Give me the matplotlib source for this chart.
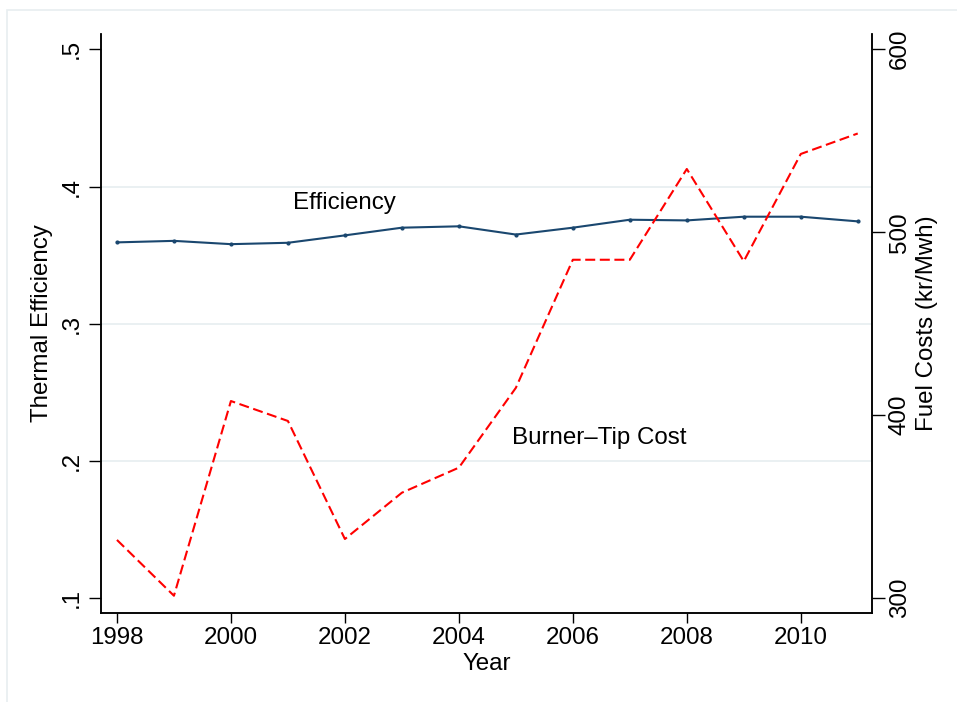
import matplotlib
matplotlib.use("Agg")
import matplotlib.pyplot as plt
from matplotlib.patches import Rectangle

plt.rcParams['font.family'] = ['Liberation Sans', 'DejaVu Sans']

# Annual series
years = [1998, 1999, 2000, 2001, 2002, 2003, 2004, 2005, 2006, 2007, 2008, 2009, 2010, 2011]
efficiency = [0.3593, 0.3604, 0.3580, 0.3590, 0.3644, 0.3700, 0.3710, 0.3650, 0.3700,
              0.3758, 0.3753, 0.3780, 0.3780, 0.3746]
fuel_cost = [331.9, 301.4, 407.8, 396.9, 332.4, 357.7, 371.4, 415.0, 485.0, 485.0,
             534.6, 484.2, 542.8, 554.0]

x_ticks = [1998, 2000, 2002, 2004, 2006, 2008, 2010]
left_ticks = [0.1, 0.2, 0.3, 0.4, 0.5]
left_labels = ['.1', '.2', '.3', '.4', '.5']
grid_levels = [0.2, 0.3, 0.4]
right_ticks = [300, 400, 500, 600]

FS = 17.4
NAVY = '#1A476F'
GRID = '#E6EDF0'

fig = plt.figure(figsize=(9.57, 7.02), dpi=100)
fig.patches.append(Rectangle((7 / 957, -0.1), 1.2, (702 - 10) / 702 + 0.1,
                             transform=fig.transFigure, fill=False,
                             edgecolor='#E8EEF0', linewidth=1.2, zorder=0))

ax = fig.add_axes([101 / 957, (702 - 613) / 702, (872 - 101) / 957, (613 - 34) / 702])
ax2 = ax.twinx()

ax.set_xlim(1997.72, 2011.25)
ax.set_ylim(0.0893, 0.5111)
ax2.set_ylim(291.97, 608.36)

for lvl in grid_levels:
    ax.axhline(lvl, color=GRID, linewidth=1.2, zorder=0)

ax.plot(years, efficiency, color=NAVY, linewidth=1.5, marker='o', markersize=2.0,
        zorder=3)
ax2.plot(years, fuel_cost, color='#FF0000', linewidth=1.5, linestyle=(0, (4.8, 2.2)),
         zorder=3)

ax.text(2001.09, 0.3835, 'Efficiency', fontsize=FS, ha='left', va='baseline')
ax.text(2004.94, 0.2125, 'Burner\u2013Tip Cost', fontsize=FS, ha='left', va='baseline')

for a in (ax, ax2):
    a.spines['top'].set_visible(False)
    for s in ('left', 'right', 'bottom'):
        a.spines[s].set_linewidth(1.1)
        a.spines[s].set_color('#000000')

ax.set_xticks(x_ticks)
ax.set_xticklabels([str(v) for v in x_ticks], fontsize=FS)
ax.set_yticks(left_ticks)
ax.set_yticklabels(left_labels, fontsize=FS, rotation=90, va='center')
ax2.set_yticks(right_ticks)
ax2.set_yticklabels([str(v) for v in right_ticks], fontsize=FS, rotation=90, va='center')

ax.tick_params(axis='x', length=7, width=1, pad=3)
ax.tick_params(axis='y', length=9, width=1, pad=4)
ax2.tick_params(axis='y', length=9, width=1, pad=3)

ax.set_xlabel('Year', fontsize=FS, labelpad=3)
ax.set_ylabel('Thermal Efficiency', fontsize=FS, labelpad=6)
ax2.set_ylabel('Fuel Costs (kr/Mwh)', fontsize=FS, rotation=90, labelpad=4)

fig.savefig('out.png', dpi=100)
